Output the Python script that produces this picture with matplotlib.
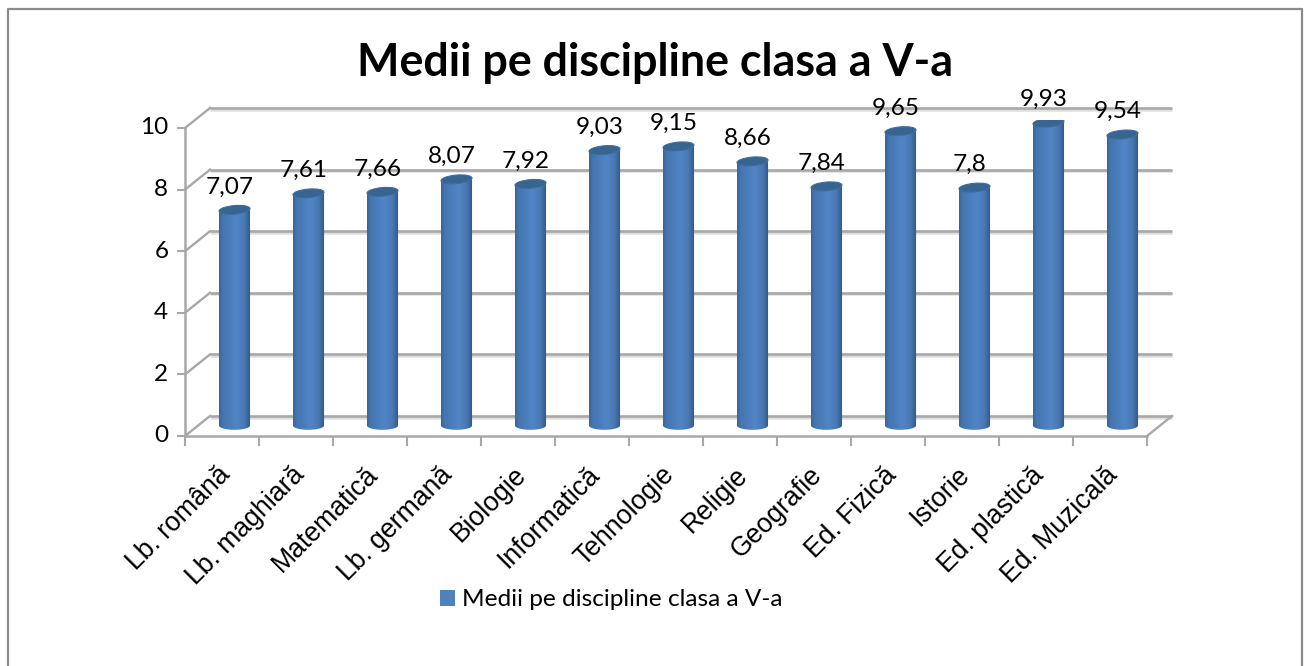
import numpy as np
import matplotlib
matplotlib.use('Agg')
import matplotlib.pyplot as plt
from matplotlib.colors import LinearSegmentedColormap
from matplotlib.patches import Ellipse, Patch
from matplotlib.lines import Line2D
from matplotlib.path import Path
from matplotlib.transforms import Affine2D, IdentityTransform

subjects = ['Lb. română', 'Lb. maghiară', 'Matematică', 'Lb. germană', 'Biologie', 'Informatică',
            'Tehnologie', 'Religie', 'Geografie', 'Ed. Fizică', 'Istorie', 'Ed. plastică', 'Ed. Muzicală']
averages = [7.07, 7.61, 7.66, 8.07, 7.92, 9.03, 9.15, 8.66, 7.84, 9.65, 7.8, 9.93, 9.54]
value_labels = ['7,07', '7,61', '7,66', '8,07', '7,92', '9,03', '9,15', '8,66', '7,84', '9,65', '7,8', '9,93', '9,54']
y_ticks = [0, 2, 4, 6, 8, 10]
series_name = 'Medii pe discipline clasa a V-a'

W, H = 1309, 666
GRID = '#a8a8a8'
cyl = LinearSegmentedColormap.from_list('cyl', [(0, '#3a6699'), (0.1, '#4475af'), (0.55, '#5285c6'),
                                                 (0.8, '#4979b4'), (1, '#2f5783')])


def box(left, top, right, bottom):
    return [left / W, 1 - bottom / H, (right - left) / W, (bottom - top) / H]


fig = plt.figure(figsize=(W / 100, H / 100), dpi=100, facecolor='white')
# outer frame, no line along the bottom
fig.add_artist(Line2D([7.5 / W, 7.5 / W, 1302 / W, 1302 / W], [0, 1 - 9 / H, 1 - 9 / H, 0], transform=fig.transFigure,
                      color='#8c8c8c', linewidth=1.6))

# front plane of the 3d box, holds the axis and the labels
ax = fig.add_axes(box(185, 128, 1147, 436))
ax.set_xlim(0, len(subjects))
ax.set_ylim(0, 10)
ax.patch.set_alpha(0)
for s in ['top', 'right']:
    ax.spines[s].set_visible(False)
for s in ['left', 'bottom']:
    ax.spines[s].set_color(GRID)
    ax.spines[s].set_linewidth(1.8)
ax.set_yticks(y_ticks)
ax.tick_params(axis='y', color=GRID, width=1.5, length=6, pad=6, labelsize=17.5)
ax.set_xticks(range(len(subjects) + 1))
ax.set_xticklabels([])
ax.tick_params(axis='x', color=GRID, width=1.5, length=7)
for lab in ax.get_yticklabels():
    lab.set_fontfamily('Lato')
    lab.set_y(lab.get_position()[1])
    lab.set_verticalalignment('center')

# back wall, same scale moved up and right
back = ax.transData + Affine2D().translate(25, 20)
for t in y_ticks:
    ax.plot([0, len(subjects)], [t, t], transform=back + Affine2D().translate(0, -1.5), color='#dedede',
            lw=1.8, clip_on=False, zorder=1, solid_capstyle='butt')
    ax.plot([0, len(subjects)], [t, t], transform=back, color=GRID, lw=1.9, clip_on=False, zorder=1.2,
            solid_capstyle='butt')
    x0, y0 = ax.transData.transform((0, t))
    ax.plot([x0, x0 + 25], [y0, y0 + 20], transform=IdentityTransform(), color=GRID, lw=1.7, clip_on=False, zorder=1)
x1, y1 = ax.transData.transform((len(subjects), 0))
ax.plot([x1, x1 + 25], [y1, y1 + 20], transform=IdentityTransform(), color=GRID, lw=1.7, clip_on=False, zorder=1)

for i, name in enumerate(subjects):
    ax.annotate(name, (i + 0.5, 0), xytext=(-5, -26), textcoords='offset pixels', rotation=45, ha='right', va='top',
                rotation_mode='anchor', fontsize=19.2, family='Liberation Sans', color='black', annotation_clip=False)

# the cylinders stand in the middle of the floor
bx = fig.add_axes(box(197.5, 120.5, 1159.5, 425.5))
bx.set_xlim(0, len(subjects))
bx.set_ylim(0, 10)
bx.axis('off')
bar_w = 0.42
rx, ry = bar_w / 2 * (962 / 13), 4.3
shade = np.linspace(0, 1, 64).reshape(1, -1)
for i, v in enumerate(averages):
    xc = i + 0.5
    im = bx.imshow(shade, cmap=cyl, extent=(xc - bar_w / 2, xc + bar_w / 2, -0.25, v), aspect='auto', zorder=3)
    (bl_x, bl_y), (tp_x, tp_y) = bx.transData.transform([(xc, 0), (xc, v)])
    a = np.linspace(np.pi, 2 * np.pi, 30)
    pts = np.column_stack([bl_x + rx * np.cos(a), bl_y + ry * np.sin(a)])
    pts = np.vstack([pts, [bl_x + rx, tp_y], [bl_x - rx, tp_y], pts[0]])
    im.set_clip_box(fig.bbox)
    im.set_clip_path(Path(pts), IdentityTransform())
    cap = Ellipse((0, 0), 2 * rx, 2 * ry, facecolor='#38658f', edgecolor='#3d6ea3', linewidth=0.8, zorder=4,
                  transform=Affine2D().rotate_deg(5).translate(tp_x, tp_y))
    bx.add_patch(cap)
    bx.annotate(value_labels[i], (xc, v), xytext=(-5, 23), textcoords='offset pixels', ha='center', va='center',
                fontsize=17.6, family='Lato', color='black', annotation_clip=False, zorder=5)
bx.set_xlim(0, len(subjects))
bx.set_ylim(0, 10)

fig.text(655 / W, 1 - 63 / H, series_name, ha='center', va='center', fontsize=32.3, fontweight='bold', family='Lato')
fig.legend(handles=[Patch(facecolor='#4f81bd', label=series_name)], loc='center', bbox_to_anchor=(611.5 / W, 1 - 600 / H),
           frameon=False, prop={'family': 'Lato', 'size': 17.6}, handlelength=0.61, handleheight=0.61, handletextpad=0.29,
           borderpad=0)

fig.savefig('out.png', dpi=100)
